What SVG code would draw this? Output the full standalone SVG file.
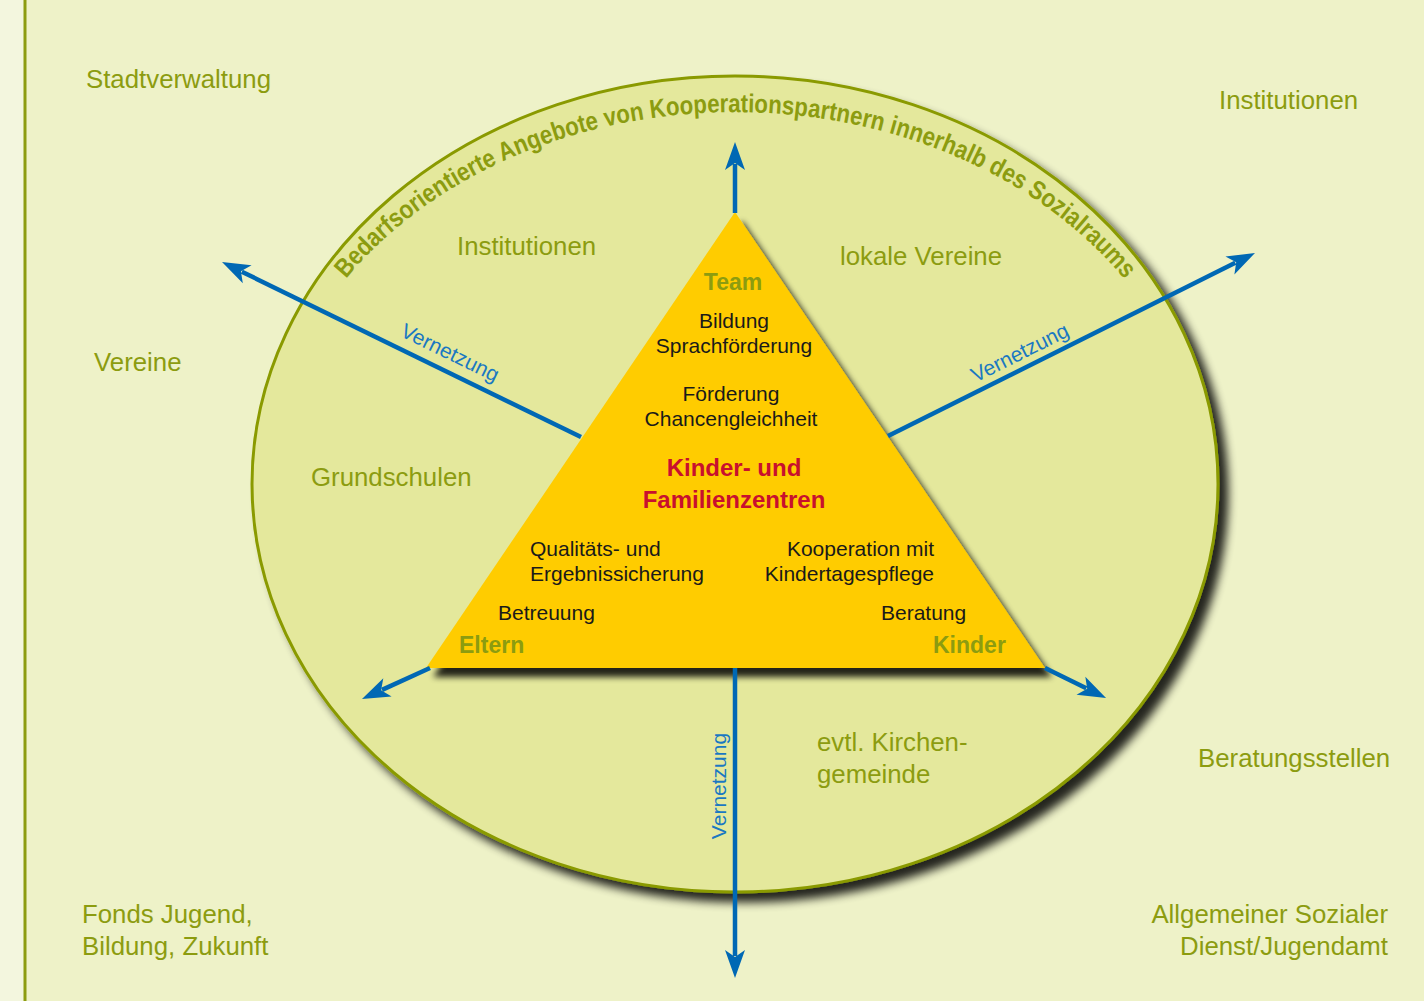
<svg xmlns="http://www.w3.org/2000/svg" width="1424" height="1001" viewBox="0 0 1424 1001">
<defs>
  <filter id="shadow" x="-10%" y="-10%" width="125%" height="125%">
    <feGaussianBlur in="SourceAlpha" stdDeviation="5"/>
    <feOffset dx="9" dy="9" result="b"/>
    <feComponentTransfer><feFuncA type="linear" slope="0.85"/></feComponentTransfer>
    <feMerge><feMergeNode/><feMergeNode in="SourceGraphic"/></feMerge>
  </filter>
  <filter id="tshadow" x="-10%" y="-10%" width="125%" height="125%">
    <feGaussianBlur in="SourceAlpha" stdDeviation="3"/>
    <feOffset dx="7" dy="9" result="b"/>
    <feComponentTransfer><feFuncA type="linear" slope="0.85"/></feComponentTransfer>
    <feMerge><feMergeNode/><feMergeNode in="SourceGraphic"/></feMerge>
  </filter>
  <marker id="arr" markerUnits="userSpaceOnUse" viewBox="-8 -12 32 24" markerWidth="32" markerHeight="24" refX="0" refY="0" orient="auto">
    <path d="M22,0 L-6,-10 L1,0 L-6,10 Z" fill="#0068b4"/>
  </marker>
  <path id="arc" d="M 268,485 A 467 373 0 0 1 1202,485"/>
</defs>
<style>
  .lbl { font-family: "Liberation Sans", Arial, sans-serif; font-size: 25.8px; fill: #8c9c10; }
  .in { font-family: "Liberation Sans", Arial, sans-serif; font-size: 21px; fill: #1a1a1a; }
  .hd { font-family: "Liberation Sans", Arial, sans-serif; font-size: 23px; font-weight: bold; fill: #8c9c10; }
  .red { font-family: "Liberation Sans", Arial, sans-serif; font-size: 24px; font-weight: bold; fill: #c8102e; }
  .vz { font-family: "Liberation Sans", Arial, sans-serif; font-size: 21px; fill: #1a78c2; }
  .arc { font-family: "Liberation Sans", Arial, sans-serif; font-size: 26px; font-weight: bold; fill: #8c9c10; }
  .con { stroke: #0068b4; stroke-width: 4.5; fill: none; marker-end: url(#arr); }
</style>
<rect x="0" y="0" width="1424" height="1001" fill="#eef2c8"/>
<rect x="0" y="0" width="24" height="1001" fill="#f3f6de"/>
<line x1="25" y1="0" x2="25" y2="1001" stroke="#8c9c10" stroke-width="3"/>

<g id="sozialraum">
  <ellipse cx="735" cy="484" rx="483" ry="408" fill="#e4e89c" stroke="#8a9a00" stroke-width="3" filter="url(#shadow)"/>
  <text class="arc"><textPath href="#arc" startOffset="225" textLength="874" lengthAdjust="spacingAndGlyphs">Bedarfsorientierte Angebote von Kooperationspartnern innerhalb des Sozialraums</textPath></text>
</g>

<g id="triangle">
  <polygon points="735,212 1045,668 426,668" fill="#ffcc00" filter="url(#tshadow)"/>
</g>

<g id="connectors">
  <line class="con" x1="735" y1="213" x2="735" y2="164"/>
  <line class="con" x1="581" y1="437" x2="241.8" y2="271.7"/>
  <line class="con" x1="888" y1="436" x2="1235.3" y2="262.8"/>
  <line class="con" x1="430" y1="668" x2="382" y2="689.9"/>
  <line class="con" x1="1045" y1="668" x2="1086.3" y2="688.3"/>
  <line class="con" x1="735" y1="668" x2="735" y2="956"/>
  <text class="vz" text-anchor="middle" transform="translate(447,359) rotate(26)">Vernetzung</text>
  <text class="vz" text-anchor="middle" transform="translate(1023,359) rotate(-26.6)">Vernetzung</text>
  <text class="vz" text-anchor="middle" transform="translate(726,786) rotate(-90)">Vernetzung</text>
</g>

<g id="triangle-text">
  <text class="hd" x="733" y="290" text-anchor="middle">Team</text>
  <text class="in" x="734" y="328" text-anchor="middle">Bildung</text>
  <text class="in" x="734" y="353" text-anchor="middle">Sprachförderung</text>
  <text class="in" x="731" y="401" text-anchor="middle">Förderung</text>
  <text class="in" x="731" y="426" text-anchor="middle">Chancengleichheit</text>
  <text class="red" x="734" y="476" text-anchor="middle">Kinder- und</text>
  <text class="red" x="734" y="508" text-anchor="middle">Familienzentren</text>
  <text class="in" x="530" y="556">Qualitäts- und</text>
  <text class="in" x="530" y="581">Ergebnissicherung</text>
  <text class="in" x="934" y="556" text-anchor="end">Kooperation mit</text>
  <text class="in" x="934" y="581" text-anchor="end">Kindertagespflege</text>
  <text class="in" x="498" y="620">Betreuung</text>
  <text class="in" x="881" y="620">Beratung</text>
  <text class="hd" x="459" y="653">Eltern</text>
  <text class="hd" x="933" y="653">Kinder</text>
</g>

<g id="inner-labels">
  <text class="lbl" x="457" y="255">Institutionen</text>
  <text class="lbl" x="840" y="265">lokale Vereine</text>
  <text class="lbl" x="311" y="486">Grundschulen</text>
  <text class="lbl" x="817" y="751">evtl. Kirchen-</text>
  <text class="lbl" x="817" y="783">gemeinde</text>
</g>

<g id="outer-labels">
  <text class="lbl" x="86" y="88">Stadtverwaltung</text>
  <text class="lbl" x="1219" y="109">Institutionen</text>
  <text class="lbl" x="94" y="371">Vereine</text>
  <text class="lbl" x="1198" y="767">Beratungsstellen</text>
  <text class="lbl" x="82" y="923">Fonds Jugend,</text>
  <text class="lbl" x="82" y="955">Bildung, Zukunft</text>
  <text class="lbl" x="1388" y="923" text-anchor="end">Allgemeiner Sozialer</text>
  <text class="lbl" x="1388" y="955" text-anchor="end">Dienst/Jugendamt</text>
</g>
</svg>
